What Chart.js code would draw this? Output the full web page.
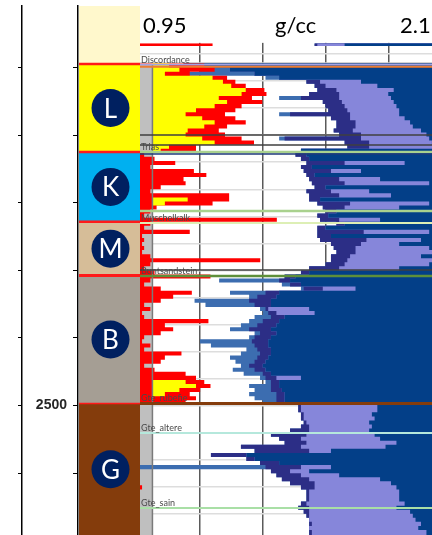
<!DOCTYPE html>
<html><head><meta charset="utf-8">
<script src="https://cdn.jsdelivr.net/npm/chart.js@4.4.1/dist/chart.umd.min.js"></script>
<style>html,body{margin:0;padding:0;overflow:hidden;background:#fff;width:432px;height:535px}canvas{display:block}</style>
</head><body>
<canvas id="c" width="451" height="535"></canvas>
<script>
// ---------- DATA ----------
const depths = [2232,2234,
 2247,2250,2253,2256,2259,2262,2265,2268,2271,2274,2277,2280,2283,2286,2289,2292,2295,2298,2301,2304,2307,2310,
 2313,2316,2319,2322,2325,2328,2331,2334,2337,2340,2343,2346,2349,2352,2355,2358,2361,2364,
 2367,2370,2373,2376,2379,2382,2385,2388,2391,2394,2397,2400,2403,
 2406,2409,2412,2415,2418,2421,2424,2427,2430,2433,2436,2439,2442,2445,2448,2451,2454,2457,2460,2463,2466,2469,2472,2475,2478,2481,2484,2487,2490,2493,2496,
 2499,2502,2505,2508,2511,2514,2517,2520,2523,2526,2529,2532,2535,2538,2541,2544,2547,2550,2553,2556,2559,2562,2565,2568,2571,2574,2577,2580,2583,2586,2589,2592,2596];

// gamma ray (API) – red curve
const gammaRay = [35,0,
 31,36,24,42,46,51,60,61,54,59,49,46,41,46,51,42,38,41,49,55,27,27,
 2,7,17,5,26,32,21,22,10,5,43,43,35,8,5,2,66,5,
 2,24,1,2,1,2,1,5,58,5,2,7,34,
 5,2,10,25,16,10,2,5,1,2,33,12,16,10,2,1,5,2,20,12,10,2,7,22,27,31,34,29,24,27,22,
 0,0,0,0,0,0,0,0,0,0,0,0,0,0,0,0,0,0,0,0,1,0,0,0,0,0,0,0,0,0,0,0,0];

// sand indicator (API) – yellow curve
const sandCurve = [6,6,
 14,19,12,35,40,44,51,49,38,42,36,27,22,30,36,31,23,22,30,36,14,10,
 6,6,6,6,6,6,6,6,6,6,6,23,12,6,6,6,6,6,
 6,6,6,6,6,6,6,6,6,6,6,6,6,
 6,6,6,6,6,6,6,6,6,6,6,6,6,6,6,6,6,6,6,6,6,6,6,6,6,22,27,19,12,6,6,
 6,6,6,6,6,6,6,6,6,6,6,6,6,6,6,6,6,6,6,6,6,6,6,6,6,6,6,6,6,6,6,6,6];

// density spikes (g/cc) – light blue
const densitySpikes = [1.60,2.10,
 1.12,1.18,1.13,1.42,1.57,1.60,1.61,1.58,1.47,1.63,1.64,1.65,1.47,1.66,1.68,1.68,1.67,1.69,1.47,1.71,1.72,1.55,
 1.53,1.55,1.57,1.55,1.56,1.57,1.58,1.59,1.60,1.57,1.58,1.58,1.61,1.63,1.64,1.61,1.62,1.68,
 1.61,1.61,1.61,1.62,1.66,1.67,1.68,1.66,1.66,1.64,1.58,1.55,1.49,
 1.25,1.48,1.55,1.29,1.36,1.16,1.20,1.40,1.41,1.38,1.36,1.33,1.29,1.38,1.36,1.18,1.22,1.35,1.33,1.29,1.31,1.33,1.30,1.34,1.40,1.42,1.36,1.38,1.36,1.38,1.41,
 1.54,1.54,1.55,1.55,1.56,1.55,1.51,1.44,1.47,1.49,1.33,1.38,1.22,1.35,1.40,0.96,1.44,1.46,1.48,1.51,1.55,1.57,1.57,1.57,1.55,1.54,1.56,1.57,1.58,1.58,1.58,1.58,1.58];

// density curve (g/cc) – dark navy
const densityCurve = [1.60,2.10,
 1.12,1.29,1.38,1.47,1.57,1.60,1.61,1.58,1.55,1.63,1.64,1.65,1.51,1.66,1.68,1.68,1.67,1.69,1.49,1.71,1.72,1.55,
 1.53,1.55,1.57,1.55,1.56,1.57,1.58,1.59,1.60,1.57,1.58,1.58,1.61,1.63,1.64,1.61,1.62,1.68,
 1.61,1.61,1.61,1.62,1.66,1.67,1.68,1.66,1.66,1.64,1.58,1.55,1.49,
 1.47,1.51,1.56,1.42,1.39,1.36,1.38,1.42,1.43,1.44,1.41,1.39,1.36,1.40,1.38,1.37,1.38,1.39,1.40,1.39,1.38,1.36,1.38,1.41,1.42,1.44,1.44,1.44,1.46,1.46,1.46,
 1.54,1.54,1.55,1.55,1.56,1.55,1.51,1.44,1.47,1.49,1.33,1.38,1.22,1.35,1.40,1.42,1.44,1.46,1.48,1.51,1.55,1.57,1.57,1.57,1.55,1.54,1.56,1.57,1.58,1.58,1.58,1.58,1.58];

// lavender band, left edge (g/cc)
const lavenderLeft = [1.61,2.10,
 1.12,1.29,1.38,1.47,1.62,1.64,1.68,1.69,1.69,1.70,1.71,1.72,1.73,1.73,1.75,1.75,1.74,1.77,1.77,1.80,1.80,1.55,
 1.57,1.58,1.71,1.59,1.66,1.60,1.69,1.71,1.64,1.66,1.69,1.62,1.73,1.71,1.68,1.65,1.69,1.71,
 1.64,1.78,1.66,1.79,1.77,1.75,1.75,1.73,1.72,1.71,1.69,1.58,1.53,
 1.51,1.55,1.63,1.47,1.46,1.44,1.44,1.43,1.46,1.49,1.47,1.46,1.44,1.46,1.44,1.43,1.43,1.44,1.44,1.43,1.42,1.41,1.42,1.44,1.46,1.47,1.47,1.48,1.49,1.49,1.49,
 1.55,1.55,1.56,1.56,1.57,1.58,1.58,1.57,1.55,1.57,1.55,1.58,1.35,1.38,1.47,1.55,1.51,1.55,1.58,1.60,1.60,1.58,1.58,1.58,1.57,1.58,1.58,1.58,1.58,1.59,1.58,1.59,1.59];

// lavender band, right edge (g/cc)
const lavenderRight = [1.71,2.10,
 1.12,1.29,1.38,1.47,1.77,1.83,1.89,1.87,1.88,1.89,1.90,1.91,1.91,1.93,1.95,1.96,1.99,2.01,2.02,2.03,2.06,1.55,
 1.57,1.58,1.93,1.59,1.77,1.60,1.84,2.02,1.64,1.80,1.88,1.62,2.02,1.91,1.68,1.65,1.84,1.71,
 1.64,2.02,1.66,1.99,1.91,2.02,2.06,1.99,2.06,2.02,1.91,1.58,1.53,
 1.51,1.55,1.75,1.47,1.46,1.44,1.44,1.58,1.60,1.49,1.47,1.46,1.44,1.46,1.44,1.43,1.43,1.44,1.44,1.43,1.42,1.41,1.42,1.44,1.55,1.47,1.47,1.48,1.49,1.49,1.49,
 1.83,1.83,1.81,1.82,1.80,1.81,1.80,1.82,1.84,1.90,1.86,1.66,1.35,1.38,1.47,1.66,1.58,1.69,1.84,1.88,1.90,1.91,1.91,1.91,1.93,1.90,1.95,1.96,1.97,1.99,1.98,2.01,2.01];

// axes
const DMIN = 2204.44, DMAX = 2595.71;
const GR_MIN = 0, GR_MAX = 150, GR_CUT = 6;
const RHO_MIN = 0.96, RHO_MAX = 2.1;
const densityGrid = [1.18, 1.41, 1.64, 1.87];
const depthTicks = [2250, 2300, 2350, 2400, 2450, 2500, 2550];
const depthGrid = [2220,2240,2260,2280,2300,2320,2340,2360,2380,2400,2420,2440,2460,2480,2500,2520,2540,2560,2580];
const headerLabels = ['0.95', 'g/cc', '2.1'];

// lithology zones
const zoneLetters = ['L','K','M','B','G'];
const zoneTops = [2247.3, 2312.5, 2364.0, 2403.8, 2498.5];
const zoneColors = ['#FFFF00','#00B0F0','#D6BD98','#A59E94','#843C0C'];
const coverColor = '#FFF8CC';

// formation markers in the track
const markerNames  = ['', 'Discordance', '', '', '', 'Trias', '', '', 'Muschelkalk', '', 'Buntsandstein', 'Gte_rubefie', 'Gte_altere', 'Gte_sain'];
const markerDepths = [2246.4, 2247.9, 2249.3, 2299.9, 2307.3, 2312.4, 2313.9, 2356.1, 2364.9, 2399.7, 2404.1, 2498.4, 2520.3, 2575.7];
const markerColors = ['#C8C8C8','#A3A3E6','#ED7D31','#3F3F3F','#3F3F3F','#A9D18E','#1F3A7A','#A9D18E','#DDEFB5','#3F3F3F','#5E8F3A','#843C0C','#B5E8DC','#A9DFA6'];
const markerWidths = [1,1.5,2,1.5,1.5,2.5,1.5,2.5,2,1.5,2.5,3,2,2];

// ---------- CHART ----------
const mk = arr => depths.map((d, i) => ({x: arr[i], y: d}));
const noPad = s => { s.paddingTop = 0; s.paddingBottom = 0; s.paddingLeft = 0; s.paddingRight = 0; };

function greyStrip(chart, fromDepth, toDepth) {
  const {ctx, chartArea: a, scales} = chart;
  const t = scales.y.getPixelForValue(fromDepth), b = scales.y.getPixelForValue(toDepth);
  const xr = scales.xg.getPixelForValue(GR_CUT);
  ctx.save();
  ctx.fillStyle = '#BFBFBF';
  ctx.fillRect(a.left, t, xr - a.left, b - t);
  ctx.restore();
}

const decor = {
  id: 'decor',
  beforeDatasetsDraw(chart) {
    greyStrip(chart, zoneTops[0], DMAX);
  },
  afterDatasetDraw(chart, args) {
    // gamma-ray shading stays right of the cut-off inside the L interval
    if (args.index === 1) greyStrip(chart, zoneTops[0], zoneTops[1]);
  },
  afterDatasetsDraw(chart) {
    const {ctx, chartArea: a, scales} = chart;
    const y = scales.y, xg = scales.xg;
    ctx.save();
    // cutoff line
    const xc = xg.getPixelForValue(GR_CUT);
    const t0 = y.getPixelForValue(zoneTops[0]);
    ctx.strokeStyle = '#7A7A7A'; ctx.lineWidth = 1.5;
    ctx.beginPath(); ctx.moveTo(xc, t0); ctx.lineTo(xc, a.bottom); ctx.stroke();
    // markers
    markerDepths.forEach((d, i) => {
      const py = y.getPixelForValue(d);
      ctx.strokeStyle = markerColors[i]; ctx.lineWidth = markerWidths[i];
      ctx.beginPath(); ctx.moveTo(a.left, py); ctx.lineTo(a.right, py); ctx.stroke();
    });
    ctx.font = '9px Lato'; ctx.fillStyle = '#4A4A4A'; ctx.textAlign = 'left'; ctx.textBaseline = 'alphabetic';
    markerDepths.forEach((d, i) => {
      if (!markerNames[i]) return;
      const py = y.getPixelForValue(d);
      ctx.fillText(markerNames[i], a.left + 1, py - 2);
    });
    // header
    const hb = y.getPixelForValue(2231.7);
    ctx.fillStyle = '#FFFFFF';
    ctx.fillRect(a.left, 0, chart.width - a.left, hb);
    ctx.fillStyle = '#000000'; ctx.font = '22px Lato';
    ctx.fillText(headerLabels[0], a.left + 3, 33);
    ctx.fillText(headerLabels[1], a.left + 135, 33);
    ctx.fillText(headerLabels[2], a.left + 260, 33);
    // lithology column
    const colL = scales.yd.right + 1, colR = a.left;
    ctx.fillStyle = coverColor;
    ctx.fillRect(colL, a.top, colR - colL, t0 - a.top);
    zoneTops.forEach((t, i) => {
      const b = i + 1 < zoneTops.length ? zoneTops[i + 1] : DMAX;
      const p0 = y.getPixelForValue(t), p1 = y.getPixelForValue(b);
      ctx.fillStyle = zoneColors[i];
      ctx.fillRect(colL, p0, colR - colL, p1 - p0);
    });
    zoneTops.forEach((t, i) => {
      const p0 = y.getPixelForValue(t);
      ctx.strokeStyle = '#FF1A1A'; ctx.lineWidth = i === 3 ? 3 : (i === 4 ? 1.5 : 2.5);
      ctx.beginPath(); ctx.moveTo(colL, p0); ctx.lineTo(colR, p0); ctx.stroke();
    });
    zoneTops.forEach((t, i) => {
      const b = i + 1 < zoneTops.length ? zoneTops[i + 1] : DMAX;
      const cy = (y.getPixelForValue(t) + y.getPixelForValue(b)) / 2;
      const cx = (colL + colR) / 2 + 1;
      ctx.fillStyle = '#002060';
      ctx.beginPath(); ctx.arc(cx, cy, 19, 0, Math.PI * 2); ctx.fill();
      ctx.fillStyle = '#FFFFFF'; ctx.font = '26px Lato'; ctx.textAlign = 'center';
      ctx.fillText(zoneLetters[i], cx, cy + 9.5);
      ctx.textAlign = 'left';
    });
    ctx.restore();
  }
};

const ds = (label, arr, xAxisID, fillValue, color, order) => ({
  label, data: mk(arr), xAxisID, yAxisID: 'y', fill: {value: fillValue},
  backgroundColor: color, borderColor: color, borderWidth: 0,
  stepped: 'after', pointRadius: 0, order
});

new Chart(document.getElementById('c'), {
  type: 'line',
  data: {datasets: [
    ds('Sand', sandCurve, 'xg', GR_CUT, '#FFFF00', 1),
    ds('Gamma ray', gammaRay, 'xg', GR_MIN, '#FF0000', 2),
    ds('Density (outer)', lavenderRight, 'x', RHO_MAX, '#033F88', 3),
    ds('Density (lavender)', lavenderLeft, 'x', RHO_MAX, '#8686DA', 4),
    ds('Density', densityCurve, 'x', RHO_MAX, '#2C2E86', 5),
    ds('Density spikes', densitySpikes, 'x', RHO_MAX, '#3C6DB0', 6)
  ]},
  options: {
    indexAxis: 'y', responsive: false, animation: false, devicePixelRatio: 1, events: [],
    layout: {padding: {top: 6, left: 0, right: 0, bottom: 0}},
    plugins: {legend: {display: false}, tooltip: {enabled: false}},
    scales: {
      x: {type: 'linear', position: 'top', min: RHO_MIN, max: RHO_MAX,
        afterFit: s => { s.height = 0; noPad(s); },
        afterBuildTicks: s => { s.ticks = densityGrid.map(v => ({value: v})); },
        ticks: {display: false}, border: {display: false},
        grid: {color: '#5A5A5A', lineWidth: 1.5, drawTicks: false}},
      xg: {type: 'linear', position: 'top', min: GR_MIN, max: GR_MAX, display: false},
      y: {type: 'linear', position: 'left', reverse: true, min: DMIN, max: DMAX, weight: 0,
        afterFit: s => { s.width = 62; noPad(s); },
        afterBuildTicks: s => { s.ticks = depthGrid.map(v => ({value: v})); },
        ticks: {display: false}, border: {display: false},
        grid: {color: '#DDDDDD', lineWidth: 1.5, drawTicks: false}},
      yd: {type: 'linear', position: 'left', reverse: true, min: DMIN, max: DMAX, weight: 1,
        afterFit: s => { s.width = 56; noPad(s); },
        afterBuildTicks: s => { s.ticks = depthTicks.map(v => ({value: v})); },
        ticks: {autoSkip: false, padding: 6, color: '#262626',
          font: {family: 'Liberation Sans', size: 14, weight: 'bold'},
          callback: v => (v === 2500 ? '2500' : '')},
        border: {display: true, color: '#000', width: 1.5},
        grid: {drawOnChartArea: false, drawTicks: true, tickLength: 5, color: '#000', lineWidth: 1}},
      yl: {type: 'linear', position: 'left', reverse: true, min: DMIN, max: DMAX, weight: 2,
        afterFit: s => { s.width = 22; noPad(s); },
        afterBuildTicks: s => { s.ticks = depthTicks.map(v => ({value: v})); },
        ticks: {display: false},
        border: {display: true, color: '#000', width: 1.5},
        grid: {drawOnChartArea: false, drawTicks: true, tickLength: 4, color: '#000', lineWidth: 1}}
    }
  },
  plugins: [decor]
});
</script>
</body></html>
